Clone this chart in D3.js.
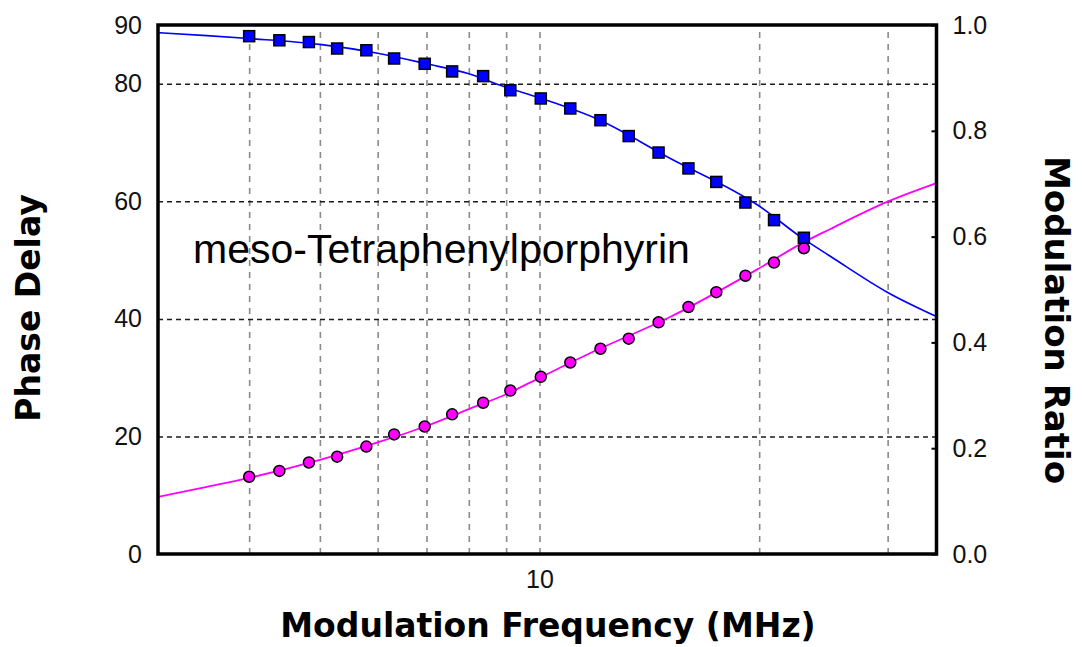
<!DOCTYPE html>
<html>
<head>
<meta charset="utf-8">
<script src="https://cdn.jsdelivr.net/npm/d3@7"></script>
<style>
  html, body { margin: 0; padding: 0; background: #fff; }
  svg { display: block; }
</style>
</head>
<body>
<svg id="chart" width="1084" height="647"></svg>
<script>
// ---- data ----
const freq = [4.0, 4.4, 4.83, 5.28, 5.79, 6.32, 6.96, 7.59, 8.37, 9.12, 10.04, 11.02, 12.12, 13.25, 14.56, 16.0, 17.47, 19.15, 20.96, 23.03];
const phase = [88.1, 87.4, 87.1, 86.0, 85.7, 84.3, 83.4, 82.1, 81.3, 78.9, 77.5, 75.8, 73.8, 71.1, 68.3, 65.6, 63.3, 59.8, 56.8, 53.8];
const modRatio = [0.146, 0.157, 0.173, 0.184, 0.203, 0.226, 0.241, 0.264, 0.286, 0.309, 0.335, 0.362, 0.388, 0.407, 0.438, 0.467, 0.495, 0.526, 0.551, 0.578];

const fitFreq = [3, 3.5, 4, 5, 6, 7, 8, 9, 10, 12, 15, 20, 23, 25, 30, 35];
const fitPhase = [88.7, 88.2, 87.7, 86.7, 85.2, 83.4, 81.7, 79.4, 77.6, 74.0, 67.5, 59.2, 53.6, 50.7, 44.5, 40.4];
const fitMod = [0.108, 0.127, 0.144, 0.178, 0.211, 0.242, 0.274, 0.302, 0.333, 0.386, 0.446, 0.540, 0.589, 0.614, 0.666, 0.701];

const xDomain = [3, 35];
const xGridTicks = [4, 5, 6, 7, 8, 9, 10, 20, 30];
const xLabelTicks = [10];
const phaseDomain = [0, 90];
const phaseLabelTicks = [0, 20, 40, 60, 80, 90];
const phaseGridTicks = [20, 40, 60, 80];
const modDomain = [0, 1];
const modTicks = [0, 0.2, 0.4, 0.6, 0.8, 1.0];

const annotation = "meso-Tetraphenylporphyrin";
const xTitle = "Modulation Frequency (MHz)";
const yLeftTitle = "Phase Delay";
const yRightTitle = "Modulation Ratio";

// ---- layout ----
const L = 158, R = 936.5, T = 25, B = 554;
const W = R - L, H = B - T;

const svg = d3.select("#chart");
svg.append("rect").attr("width", 1084).attr("height", 647).attr("fill", "#fff");

const x = d3.scaleLog().domain(xDomain).range([L, R]);
const yP = d3.scaleLinear().domain(phaseDomain).range([B, T]);
const yM = d3.scaleLinear().domain(modDomain).range([B, T]);

const tickFont = "'Liberation Sans', Arial, sans-serif";
const titleFont = "'DejaVu Sans', Verdana, sans-serif";

// vertical grid
const gx = svg.append("g").attr("transform", `translate(0,${B})`)
  .call(d3.axisBottom(x).tickValues(xGridTicks).tickSize(-H).tickFormat(""));
gx.select(".domain").remove();
gx.selectAll(".tick line").attr("stroke", "#8a8a8a").attr("stroke-width", 1.6).attr("stroke-dasharray", "6,6");

// horizontal grid
const gy = svg.append("g").attr("transform", `translate(${L},0)`)
  .call(d3.axisLeft(yP).tickValues(phaseGridTicks).tickSize(-W).tickFormat(""));
gy.select(".domain").remove();
gy.selectAll(".tick line").attr("stroke", "#1a1a1a").attr("stroke-width", 1.5).attr("stroke-dasharray", "5,4");

// clip
svg.append("clipPath").attr("id", "clip").append("rect")
  .attr("x", L).attr("y", T).attr("width", W).attr("height", H);

const plot = svg.append("g").attr("clip-path", "url(#clip)");

const fitPts = fitFreq.map((f, i) => ({ f, p: fitPhase[i], m: fitMod[i] }));
const pts = freq.map((f, i) => ({ f, p: phase[i], m: modRatio[i] }));

plot.append("path").datum(fitPts)
  .attr("fill", "none").attr("stroke", "#0000ff").attr("stroke-width", 1.6)
  .attr("d", d3.line().curve(d3.curveMonotoneX).x(d => x(d.f)).y(d => yP(d.p)));

plot.append("path").datum(fitPts)
  .attr("fill", "none").attr("stroke", "#ff00ff").attr("stroke-width", 1.8)
  .attr("d", d3.line().curve(d3.curveMonotoneX).x(d => x(d.f)).y(d => yM(d.m)));

plot.selectAll("circle.mod").data(pts).enter().append("circle")
  .attr("class", "mod")
  .attr("cx", d => x(d.f)).attr("cy", d => yM(d.m)).attr("r", 5.5)
  .attr("fill", "#ff00ff").attr("stroke", "#000").attr("stroke-width", 1.5);

const s = 11;
plot.selectAll("rect.ph").data(pts).enter().append("rect")
  .attr("class", "ph")
  .attr("x", d => x(d.f) - s / 2).attr("y", d => yP(d.p) - s / 2)
  .attr("width", s).attr("height", s)
  .attr("fill", "#0000ff").attr("stroke", "#000").attr("stroke-width", 1.5);

// frame
svg.append("rect").attr("x", L).attr("y", T).attr("width", W).attr("height", H)
  .attr("fill", "none").attr("stroke", "#000").attr("stroke-width", 3.5);

// left labels
const aL = svg.append("g").attr("transform", `translate(${L},0)`)
  .call(d3.axisLeft(yP).tickValues(phaseLabelTicks).tickSize(0).tickPadding(16).tickFormat(d3.format("d")));
aL.select(".domain").remove();
aL.selectAll("text").attr("font-family", tickFont).attr("font-size", 25).attr("fill", "#111");

// right axis
const aR = svg.append("g").attr("transform", `translate(${R},0)`)
  .call(d3.axisRight(yM).tickValues(modTicks).tickSize(-5).tickPadding(16).tickFormat(d3.format(".1f")));
aR.select(".domain").remove();
aR.selectAll(".tick line").attr("stroke", "#000").attr("stroke-width", 2);
aR.selectAll("text").attr("font-family", tickFont).attr("font-size", 25).attr("fill", "#111");

// bottom label
const aB = svg.append("g").attr("transform", `translate(0,${B})`)
  .call(d3.axisBottom(x).tickValues(xLabelTicks).tickSize(0).tickPadding(16).tickFormat(d3.format("d")));
aB.select(".domain").remove();
aB.selectAll("text").attr("font-family", tickFont).attr("font-size", 25).attr("fill", "#111");

// titles
svg.append("text").attr("x", 548).attr("y", 637)
  .attr("text-anchor", "middle").attr("font-family", titleFont).attr("font-weight", "bold")
  .attr("font-size", 33).attr("fill", "#000").text(xTitle);

svg.append("text").attr("transform", "translate(40,308) rotate(-90)")
  .attr("text-anchor", "middle").attr("font-family", titleFont).attr("font-weight", "bold")
  .attr("font-size", 33).attr("fill", "#000").text(yLeftTitle);

svg.append("text").attr("transform", "translate(1045,320) rotate(90)")
  .attr("text-anchor", "middle").attr("font-family", titleFont).attr("font-weight", "bold")
  .attr("font-size", 34).attr("fill", "#000").text(yRightTitle);

// annotation
svg.append("text").attr("x", 193).attr("y", 263)
  .attr("font-family", tickFont).attr("font-size", 41).attr("fill", "#000").text(annotation);
</script>
</body>
</html>
